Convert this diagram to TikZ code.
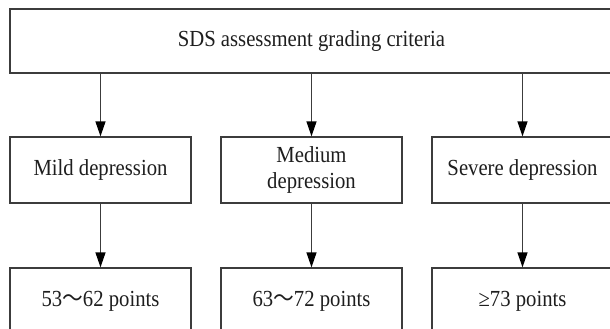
\documentclass[tikz,border=0pt]{standalone}
\usepackage{fontspec}
\setmainfont{Liberation Serif}[FakeStretch=0.9]
\newfontfamily\cjk{Noto Sans CJK SC}[FakeStretch=0.9]
\usetikzlibrary{arrows.meta}
\definecolor{edge}{HTML}{3C3C3C}
\definecolor{ink}{HTML}{1E1E1E}
\tikzset{
  box/.style={draw=edge, line width=1.3pt, rectangle, minimum width=181pt,
    minimum height=66pt, inner sep=0pt, align=center, text=ink,
    font=\fontsize{23}{26}\selectfont},
  flow/.style={draw=edge, line width=1.3pt,
    -{Triangle[length=15pt,width=10pt,color=black]}},
}
\begin{document}
\begin{tikzpicture}[x=1pt, y=-1pt]
  \useasboundingbox (0,0) rectangle (610,329);
  \clip (0,0) rectangle (610,329);
  \fill[white] (0,0) rectangle (610,329);

  % heading box
  \node[box, minimum width=603pt, minimum height=64pt] (top) at (311.5,41) {SDS assessment grading criteria};

  % depression levels
  \node[box] (mild) at (100.5,170) {Mild depression};
  \node[box] (med)  at (311.5,170) {Medium\\depression};
  \node[box] (sev)  at (522.5,170) {Severe depression};

  % score ranges
  \node[box] (s1) at (100.5,301) {53{\cjk ～}62 points};
  \node[box] (s2) at (311.5,301) {63{\cjk ～}72 points};
  \node[box] (s3) at (522.5,301) {≥73 points};

  \draw[flow] (top.south -| mild) -- (mild);
  \draw[flow] (top.south -| med) -- (med);
  \draw[flow] (top.south -| sev) -- (sev);
  \draw[flow] (mild) -- (s1);
  \draw[flow] (med) -- (s2);
  \draw[flow] (sev) -- (s3);
\end{tikzpicture}
\end{document}
